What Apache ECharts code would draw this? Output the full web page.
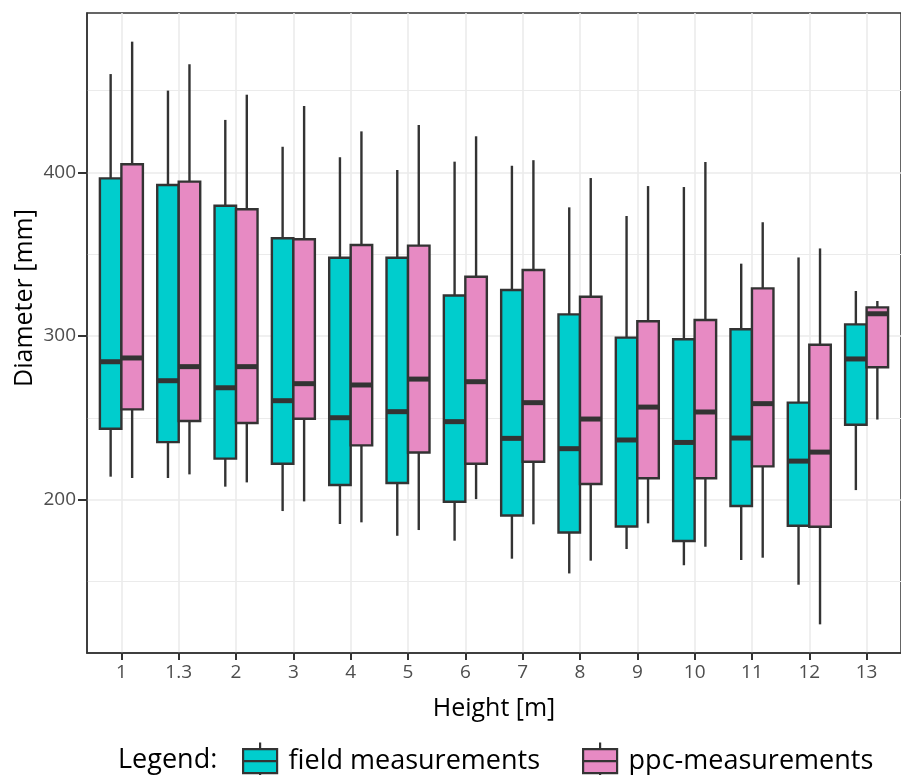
<!DOCTYPE html>
<html><head><meta charset="utf-8">
<script src="https://cdn.jsdelivr.net/npm/echarts@6/dist/echarts.min.js"></script>
<style>html,body{margin:0;padding:0;background:#fff}#c{width:901px;height:775px}</style>
</head><body><div id="c"></div>
<script>
// ---- data ----
const categories = ['1','1.3','2','3','4','5','6','7','8','9','10','11','12','13'];
const seriesNames = ['field measurements','ppc-measurements'];
// [lower whisker, Q1, median, Q3, upper whisker]
const fieldStats = [
  [214.1,243.4,284.3,396.3,460.0],
  [213.3,235.2,272.7,392.2,449.9],
  [208.0,225.1,268.4,379.6,432.0],
  [193.1,222.0,260.5,359.7,415.6],
  [185.2,209.0,250.1,347.8,409.2],
  [178.0,210.2,253.8,347.8,401.4],
  [175.0,198.8,247.7,324.8,406.5],
  [164.0,190.4,237.5,328.1,404.0],
  [155.0,180.0,231.2,313.2,378.6],
  [169.9,183.7,236.5,299.0,373.3],
  [160.0,174.8,235.0,298.0,391.0],
  [163.2,196.2,237.7,304.1,344.2],
  [148.1,184.1,223.6,259.3,348.0],
  [205.9,245.8,286.0,307.1,327.5]
];
const ppcStats = [
  [213.3,255.2,286.6,404.9,479.8],
  [215.5,248.1,281.3,394.3,466.0],
  [210.6,246.9,281.3,377.4,447.4],
  [199.0,249.5,270.9,359.1,440.5],
  [186.2,233.2,270.1,355.6,425.0],
  [181.5,228.9,273.7,355.2,428.9],
  [200.4,222.0,272.1,336.2,422.0],
  [185.0,223.2,259.3,340.3,407.4],
  [162.8,209.6,249.3,324.0,396.5],
  [185.6,213.1,256.6,309.0,391.6],
  [171.3,213.1,253.6,309.8,406.3],
  [164.6,220.4,258.7,329.1,369.5],
  [123.9,183.5,229.1,294.7,353.5],
  [249.0,280.9,313.6,317.5,321.4]
];
const yTickValues = [200,300,400];
const yMinorValues = [150,250,350,450];

const colors = ['#00CDCD','#E78AC3'];
const lineColor = '#333333';
const FONT = 'Open Sans';

const chart = echarts.init(document.getElementById('c'), null, {renderer:'canvas'});
const catIdx = categories.map((c,i)=>i);

function makeData(stats){ return stats.map((s,i)=>[i, s[0], s[1], s[2], s[3], s[4]]); }
function boxRenderer(offset, fill){
  return function(params, api){
    const x = api.value(0);
    const lo = api.value(1), q1 = api.value(2), md = api.value(3), q3 = api.value(4), hi = api.value(5);
    const half = 0.1875;
    const cx = x + offset;
    const pL = api.coord([cx-half, md]), pR = api.coord([cx+half, md]), pC = api.coord([cx, md]);
    const yLo = api.coord([cx, lo])[1], yQ1 = api.coord([cx, q1])[1];
    const yQ3 = api.coord([cx, q3])[1], yHi = api.coord([cx, hi])[1];
    const ls = {stroke: lineColor, lineWidth: 2.4};
    return {type:'group', children:[
      {type:'line', shape:{x1:pC[0], y1:yHi, x2:pC[0], y2:yQ3}, style:ls},
      {type:'line', shape:{x1:pC[0], y1:yQ1, x2:pC[0], y2:yLo}, style:ls},
      {type:'rect', shape:{x:pL[0], y:yQ3, width:pR[0]-pL[0], height:yQ1-yQ3}, style:{fill:fill, stroke:lineColor, lineWidth:2.4}},
      {type:'line', shape:{x1:pL[0], y1:pC[1], x2:pR[0], y2:pC[1]}, style:{stroke:lineColor, lineWidth:5}}
    ]};
  };
}

const iconPath = 'path://M17.5,0 L17.5,6.5 M0.5,6.5 L34.5,6.5 L34.5,30.5 L0.5,30.5 Z M0.5,18.5 L34.5,18.5 M17.5,30.5 L17.5,37';

const option = {
  animation: false,
  backgroundColor: '#ffffff',
  grid: {left: 87, top: 13, width: 824, height: 640, show: true, borderColor: '#333333', borderWidth: 1.5, backgroundColor: 'transparent'},
  xAxis: {
    type: 'value', min: -0.6, max: 13.6,
    axisLine: {show: true, onZero: false, lineStyle: {color: lineColor, width: 1.5}},
    axisTick: {show: true, customValues: catIdx, length: 7, lineStyle: {color: lineColor, width: 2}},
    axisLabel: {customValues: catIdx, formatter: v => categories[Math.round(v)], fontSize: 19, color: '#4d4d4d', margin: 10, fontFamily: FONT},
    splitLine: {show: true, lineStyle: {color: '#ebebeb', width: 1.6}},
    name: 'Height [m]', nameLocation: 'middle', nameGap: 43,
    nameTextStyle: {fontSize: 25, color: '#000', fontFamily: FONT}
  },
  yAxis: [{
    type: 'value', min: 106.4, max: 497.3, position: 'left',
    axisLine: {show: true, onZero: false, lineStyle: {color: lineColor, width: 1.5}},
    axisTick: {show: true, inside: false, customValues: yTickValues, length: 9, lineStyle: {color: lineColor, width: 2}},
    axisLabel: {customValues: yTickValues, fontSize: 19, color: '#4d4d4d', margin: 11, fontFamily: FONT},
    splitLine: {show: true, lineStyle: {color: '#ebebeb', width: 1.6}}
  }, {
    type: 'value', min: 106.4, max: 497.3, position: 'left',
    axisLine: {show: false, onZero: false},
    axisTick: {show: false, customValues: yMinorValues},
    axisLabel: {show: false, customValues: yMinorValues},
    splitLine: {show: true, lineStyle: {color: '#ebebeb', width: 1.1}}
  }],
  legend: [{
    left: 242, top: 741.5, padding: 0, itemWidth: 35, itemHeight: 37,
    data: [{name: seriesNames[0], icon: iconPath, itemStyle: {color: colors[0], borderColor: lineColor, borderWidth: 2.2}}],
    textStyle: {fontSize: 27, color: '#000', fontFamily: FONT, padding: [0,0,0,6]}
  }, {
    left: 582, top: 741.5, padding: 0, itemWidth: 35, itemHeight: 37,
    data: [{name: seriesNames[1], icon: iconPath, itemStyle: {color: colors[1], borderColor: lineColor, borderWidth: 2.2}}],
    textStyle: {fontSize: 27, color: '#000', fontFamily: FONT, padding: [0,0,0,6]}
  }],
  graphic: [
    {type: 'text', x: 118, y: 760, style: {text: 'Legend:', font: '27px "Open Sans"', fill: '#000', align: 'left', verticalAlign: 'middle'}},
    {type: 'text', x: 25, y: 298, rotation: Math.PI/2, style: {text: 'Diameter [mm]', font: '25px "Open Sans"', fill: '#000', align: 'center', verticalAlign: 'middle'}}
  ],
  series: [
    {name: seriesNames[0], type: 'custom', itemStyle: {color: colors[0]},
     encode: {x: 0, y: [1,2,3,4,5]}, data: makeData(fieldStats), renderItem: boxRenderer(-0.1875, colors[0]), z: 3},
    {name: seriesNames[1], type: 'custom', itemStyle: {color: colors[1]},
     encode: {x: 0, y: [1,2,3,4,5]}, data: makeData(ppcStats), renderItem: boxRenderer(0.1875, colors[1]), z: 3}
  ]
};
chart.setOption(option);
</script></body></html>
